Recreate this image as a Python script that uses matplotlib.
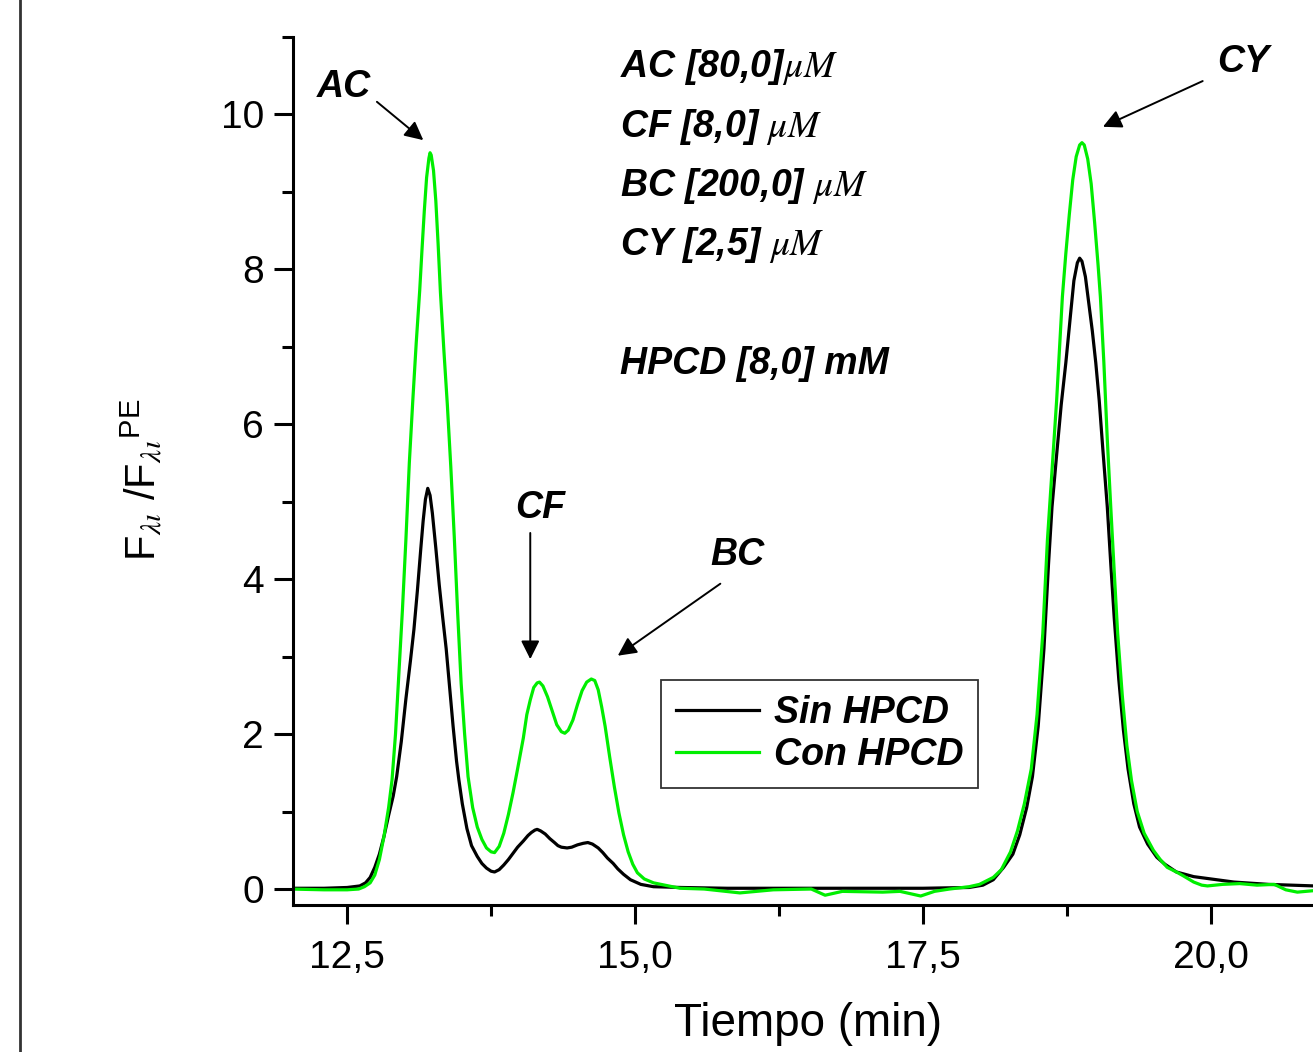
import numpy as np
import matplotlib
matplotlib.use("Agg")
import matplotlib.pyplot as plt
from matplotlib.lines import Line2D
from matplotlib.ticker import MultipleLocator, FuncFormatter

plt.rcParams['font.family'] = ['Liberation Sans', 'DejaVu Sans']
plt.rcParams['mathtext.fontset'] = 'stix'

# Sin HPCD (black)
t_sin = [12.00, 12.30, 12.50, 12.61, 12.66, 12.70, 12.74, 12.78, 12.82, 12.86,
         12.90, 12.93, 12.97, 13.01, 13.05, 13.08, 13.11, 13.14, 13.16, 13.18,
         13.20, 13.22, 13.24, 13.27, 13.30, 13.33, 13.36, 13.39, 13.42, 13.45,
         13.47, 13.50, 13.54, 13.58, 13.63, 13.67, 13.71, 13.75, 13.78, 13.82,
         13.86, 13.90, 13.94, 13.98, 14.03, 14.07, 14.10, 14.13, 14.15, 14.18,
         14.22, 14.26, 14.30, 14.33, 14.36, 14.41, 14.45, 14.50, 14.55, 14.59,
         14.63, 14.68, 14.72, 14.76, 14.81, 14.85, 14.90, 14.96, 15.05, 15.16,
         15.40, 15.80, 16.50, 17.00, 17.50, 17.90, 18.02, 18.11, 18.20, 18.28,
         18.34, 18.40, 18.45, 18.50, 18.55, 18.59, 18.62, 18.66, 18.70, 18.74,
         18.78, 18.81, 18.84, 18.86, 18.88, 18.91, 18.94, 18.97, 19.00, 19.03,
         19.06, 19.10, 19.13, 19.16, 19.20, 19.24, 19.28, 19.33, 19.38, 19.45,
         19.53, 19.60, 19.70, 19.85, 20.00, 20.20, 20.50, 20.90]
y_sin = [0.01, 0.01, 0.02, 0.04, 0.08, 0.15, 0.28, 0.45, 0.68, 0.95,
         1.20, 1.45, 1.90, 2.45, 2.95, 3.35, 3.85, 4.40, 4.75, 5.03,
         5.17, 5.08, 4.85, 4.40, 3.92, 3.50, 3.10, 2.60, 2.10, 1.65,
         1.41, 1.10, 0.78, 0.56, 0.42, 0.33, 0.27, 0.23, 0.22, 0.25,
         0.31, 0.38, 0.46, 0.54, 0.62, 0.69, 0.73, 0.76, 0.77, 0.75,
         0.71, 0.65, 0.60, 0.56, 0.54, 0.53, 0.54, 0.57, 0.59, 0.60,
         0.58, 0.53, 0.47, 0.40, 0.33, 0.26, 0.19, 0.12, 0.06, 0.03,
         0.02, 0.01, 0.01, 0.01, 0.01, 0.02, 0.05, 0.12, 0.28, 0.45,
         0.70, 1.05, 1.45, 2.10, 3.10, 4.20, 4.93, 5.60, 6.25, 6.79,
         7.40, 7.85, 8.08, 8.14, 8.10, 7.90, 7.55, 7.20, 6.79, 6.30,
         5.70, 4.93, 4.20, 3.50, 2.70, 2.05, 1.55, 1.10, 0.80, 0.58,
         0.41, 0.32, 0.22, 0.16, 0.13, 0.09, 0.06, 0.04]

# Con HPCD (green)
t_con = [12.00, 12.30, 12.50, 12.60, 12.65, 12.70, 12.74, 12.78, 12.82, 12.86,
         12.89, 12.92, 12.95, 12.98, 13.01, 13.04, 13.07, 13.10, 13.13, 13.15,
         13.17, 13.19, 13.21, 13.22, 13.23, 13.25, 13.27, 13.29, 13.31, 13.34,
         13.37, 13.40, 13.43, 13.46, 13.49, 13.52, 13.55, 13.59, 13.63, 13.67,
         13.71, 13.75, 13.78, 13.82, 13.86, 13.90, 13.94, 13.98, 14.03, 14.06,
         14.09, 14.12, 14.15, 14.17, 14.20, 14.24, 14.28, 14.32, 14.36, 14.39,
         14.42, 14.46, 14.50, 14.54, 14.58, 14.62, 14.65, 14.68, 14.71, 14.74,
         14.78, 14.82, 14.86, 14.90, 14.94, 14.98, 15.02, 15.08, 15.16, 15.39,
         15.60, 15.91, 16.20, 16.53, 16.65, 16.80, 17.15, 17.30, 17.48, 17.60,
         17.73, 17.90, 17.99, 18.11, 18.18, 18.26, 18.32, 18.38, 18.44, 18.49,
         18.54, 18.58, 18.62, 18.66, 18.71, 18.74, 18.77, 18.80, 18.83, 18.86,
         18.88, 18.90, 18.93, 18.96, 18.99, 19.02, 19.04, 19.07, 19.10, 19.13,
         19.16, 19.19, 19.23, 19.27, 19.31, 19.36, 19.42, 19.50, 19.56, 19.62,
         19.70, 19.76, 19.85, 19.92, 19.97, 20.10, 20.25, 20.40, 20.55, 20.65,
         20.75, 20.90]
y_con = [0.00, -0.01, -0.01, 0.00, 0.03, 0.08, 0.18, 0.38, 0.68, 1.05,
         1.41, 2.00, 2.80, 3.60, 4.50, 5.50, 6.30, 7.05, 7.72, 8.25,
         8.75, 9.18, 9.43, 9.50, 9.47, 9.27, 8.88, 8.32, 7.70, 6.95,
         6.25, 5.45, 4.55, 3.55, 2.65, 2.00, 1.45, 1.05, 0.80, 0.64,
         0.53, 0.48, 0.47, 0.55, 0.72, 0.96, 1.24, 1.55, 1.95, 2.25,
         2.44, 2.60, 2.66, 2.67, 2.62, 2.48, 2.30, 2.12, 2.03, 2.01,
         2.05, 2.18, 2.38, 2.56, 2.67, 2.71, 2.69, 2.57, 2.35, 2.10,
         1.70, 1.32, 0.98, 0.70, 0.48, 0.32, 0.21, 0.13, 0.08, 0.01,
         0.00, -0.05, -0.01, 0.00, -0.08, -0.03, -0.04, -0.03, -0.09, -0.03,
         0.00, 0.03, 0.06, 0.15, 0.25, 0.48, 0.75, 1.10, 1.55, 2.25,
         3.30, 4.50, 5.40, 6.30, 7.64, 8.20, 8.70, 9.15, 9.45, 9.60,
         9.63, 9.60, 9.42, 9.10, 8.60, 8.05, 7.64, 6.80, 5.80, 4.93,
         4.10, 3.30, 2.50, 1.85, 1.40, 1.00, 0.72, 0.50, 0.38, 0.28,
         0.22, 0.17, 0.09, 0.05, 0.04, 0.06, 0.07, 0.05, 0.06, -0.01,
         -0.04, -0.02]

conc_lines = [r'AC [80,0]$\mu M$', r'CF [8,0] $\mu M$', r'BC [200,0] $\mu M$',
              r'CY [2,5] $\mu M$', 'HPCD [8,0] mM']
conc_y = [10.61, 9.83, 9.07, 8.31, 6.77]

fig = plt.figure(figsize=(13.13, 10.52), dpi=100)
ax = fig.add_axes([293 / 1313, 147 / 1052, 1 - 293 / 1313, 868.5 / 1052])

ax.plot(t_sin, y_sin, color='black', lw=2.3, solid_joinstyle='round', label='Sin HPCD')
ax.plot(t_con, y_con, color='#00ee00', lw=2.3, solid_joinstyle='round', label='Con HPCD')

ax.set_xlim(12.03, 20.886)
ax.set_ylim(-0.206, 11)
ax.spines['top'].set_visible(False)
ax.spines['right'].set_visible(False)
for s in ['left', 'bottom']:
    ax.spines[s].set_linewidth(2.2)

ax.xaxis.set_major_locator(MultipleLocator(2.5))
ax.xaxis.set_minor_locator(MultipleLocator(1.25))
ax.yaxis.set_major_locator(MultipleLocator(2))
ax.yaxis.set_minor_locator(MultipleLocator(1))
ax.xaxis.set_major_formatter(FuncFormatter(lambda v, p: ('%.1f' % v).replace('.', ',')))
ax.tick_params(which='major', length=14, width=2.2, labelsize=28)
ax.tick_params(which='minor', length=8, width=2.2)
ax.tick_params(axis='x', which='major', pad=11)
ax.tick_params(axis='y', which='major', pad=7)

ax.set_xlabel('Tiempo (min)', fontsize=33)
ax.xaxis.set_label_coords(0.505, -0.112)
ax.set_ylabel(r'F$_{\lambda\iota}$ /F$_{\lambda\iota}$$^{\mathregular{PE}}$', fontsize=30)
ax.yaxis.set_label_coords(-0.125, 0.49)

bi = dict(fontsize=27, fontweight='bold', fontstyle='italic')
for s, yv in zip(conc_lines, conc_y):
    ax.text(14.87, yv, s, ha='left', va='center', **bi)

arrow = dict(arrowstyle='-|>', color='black', lw=1.4, mutation_scale=28)
ax.text(12.47, 10.35, 'AC', ha='center', va='center', **bi)
ax.annotate('', xy=(13.18, 9.64), xytext=(12.74, 10.18), arrowprops=arrow)
ax.text(20.28, 10.67, 'CY', ha='center', va='center', **bi)
ax.annotate('', xy=(19.04, 9.82), xytext=(19.95, 10.44), arrowprops=arrow)
ax.text(14.18, 4.92, 'CF', ha='center', va='center', **bi)
ax.annotate('', xy=(14.09, 2.93), xytext=(14.09, 4.63), arrowprops=arrow)
ax.text(15.89, 4.31, 'BC', ha='center', va='center', **bi)
ax.annotate('', xy=(14.83, 2.99), xytext=(15.76, 3.96), arrowprops=arrow)

leg = ax.legend(loc='upper left', bbox_to_anchor=(0.361, 0.259), borderaxespad=0,
                prop=dict(size=27, weight='bold', style='italic'),
                handlelength=2.2, handletextpad=0.4, labelspacing=0.15,
                borderpad=0.4, fancybox=False, framealpha=1)
leg.get_frame().set_edgecolor('#333333')
leg.get_frame().set_linewidth(1.3)

fig.add_artist(Line2D([20 / 1313, 20 / 1313], [0, 1], color='#333333', lw=2,
                      transform=fig.transFigure))

fig.savefig('out.png', dpi=100)
